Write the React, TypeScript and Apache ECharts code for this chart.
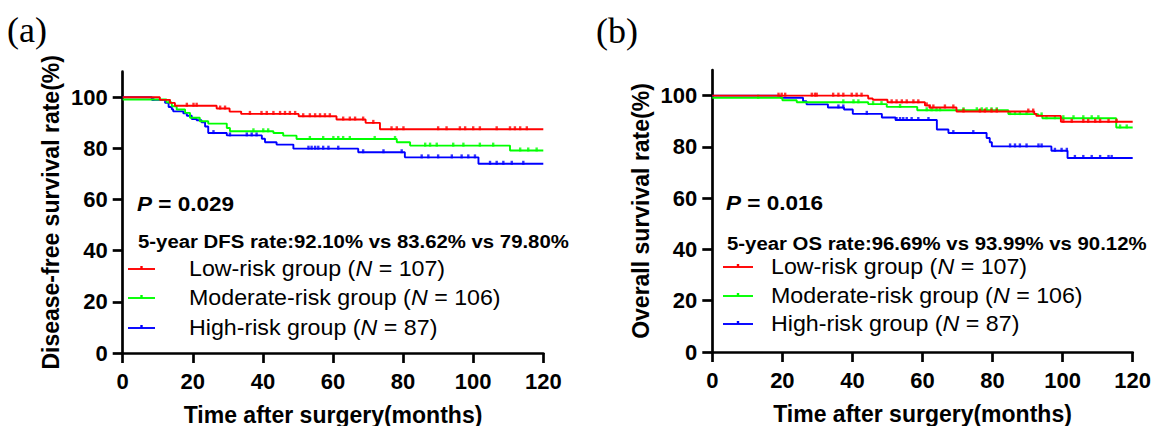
import React, { useEffect, useRef } from "react";
import * as echarts from "echarts";

// ---------- Data ----------
const xTicks = [0, 20, 40, 60, 80, 100, 120];
const yTicks = [0, 20, 40, 60, 80, 100];

const groupNames = ["Low-risk group", "Moderate-risk group", "High-risk group"];
const groupN = [107, 106, 87];
const groupColors = ["#ff0000", "#00ff00", "#0000ff"];

// Panel (a) Disease-free survival: step times (months) and survival (%)
const lowDFS_t = [0, 10.6, 13.5, 14.9, 26.8, 30.5, 33.8, 50.2, 61.0, 69.3, 73.4, 120];
const lowDFS_v = [100, 99.0, 97.8, 96.7, 95.6, 94.4, 93.5, 92.6, 91.3, 90.0, 87.5, 87.5];
const modDFS_t = [0, 12.5, 14.0, 15.4, 17.8, 19.2, 22.0, 24.4, 29.7, 30.6, 43.0, 45.8, 49.6, 78.2, 82.0, 110.5, 120];
const modDFS_v = [99.1, 98.0, 96.5, 95.2, 93.9, 92.0, 90.6, 89.7, 88.0, 86.7, 86.0, 85.0, 83.7, 82.4, 81.1, 79.2, 79.2];
const highDFS_t = [0, 8.3, 12.1, 13.1, 14.0, 14.4, 17.3, 18.3, 19.7, 21.1, 22.5, 23.5, 24.4, 29.7, 39.7, 40.6, 43.9, 48.7, 67.2, 80.5, 101.5, 120];
const highDFS_v = [100, 99.0, 97.8, 96.2, 95.3, 94.5, 93.7, 92.8, 91.5, 91.0, 90.2, 88.6, 86.0, 85.1, 83.8, 82.4, 81.5, 79.9, 78.5, 76.5, 74.0, 74.0];

// censored times (months)
const lowDFS_c = [18.3, 20.2, 21.1, 27.8, 29.2, 36.3, 39.6, 41.1, 43, 44.9, 46.3, 47.7, 49.2, 51.5, 53.4, 54.9, 56.3, 57.7, 59.1, 62.9, 64.8, 66.3, 68.6, 71.5, 76.7, 78.2, 80.1, 90, 92.4, 96.2, 97.7, 100, 101.9, 106.7, 110.5, 111.9, 113.4, 115.3];
const modDFS_c = [13.3, 37.3, 40.1, 41.5, 53.4, 57.2, 60.1, 61.5, 62.9, 64.8, 71.9, 77.7, 86.3, 87.7, 89.6, 94.3, 97.2, 101.9, 105.7, 113.4, 115.7, 118.1];
const highDFS_c = [8.7, 25.9, 30.6, 35.4, 36.8, 38.2, 53.0, 53.9, 54.9, 55.8, 57.2, 58.7, 61.5, 68.6, 74.4, 79.6, 85.3, 87.2, 90.0, 93.9, 96.7, 98.6, 100.5, 104.8, 106.7, 108.6, 111.0, 114.3];

// Panel (b) Overall survival
const lowOS_t = [0, 44.5, 45.8, 50.0, 60.7, 62.0, 69.7, 91.9, 92.5, 99.5, 120];
const lowOS_v = [100, 98.9, 98.4, 97.4, 96.2, 95.4, 93.8, 92.9, 92.1, 89.8, 89.8];
const modOS_t = [0, 20.0, 24.1, 44.5, 49.8, 58.5, 84.5, 93.0, 94.2, 115.3, 120];
const modOS_v = [99.2, 98.2, 97.4, 96.7, 95.6, 94.3, 92.8, 92.3, 91.2, 87.6, 87.6];
const highOS_t = [0, 19.5, 25.9, 26.9, 33.0, 37.6, 40.1, 48.4, 52.3, 64.1, 67.4, 78.3, 79.2, 79.8, 96.8, 101.4, 120];
const highOS_v = [100, 99.2, 97.8, 96.6, 95.4, 94.6, 92.9, 91.5, 90.5, 86.8, 85.4, 83.5, 81.8, 80.2, 78.5, 75.7, 75.7];

const lowOS_c = [18.9, 19.8, 20.8, 28.4, 29.3, 29.8, 34.5, 36.0, 37.4, 39.8, 41.2, 42.6, 51.2, 52.6, 54.1, 55.5, 57.4, 58.8, 61.2, 62.1, 63.1, 66.4, 68.8, 71.7, 76.4, 77.8, 79.7, 81.2, 90.2, 91.6, 100.2, 102.6, 105.9, 107.3, 109.3, 110.7, 113.1, 115.4];
const modOS_c = [13.1, 37.4, 40.3, 41.7, 45.9, 48.3, 53.6, 61.2, 62.6, 64.0, 65.0, 71.7, 75.5, 76.9, 78.3, 79.7, 81.2, 85.0, 86.4, 87.8, 89.7, 94.0, 95.4, 97.8, 100.2, 103.1, 105.9, 108.3, 110.2, 116.4, 118.3];
const highOS_c = [36.0, 37.4, 44.1, 52.6, 53.6, 54.5, 55.5, 56.9, 58.8, 61.7, 68.8, 74.5, 85.0, 86.4, 87.8, 89.7, 93.1, 94.0, 97.8, 99.7, 101.2, 103.5, 105.9, 108.3, 110.7, 113.1, 114.0];

const panelA = {
  label: "(a)",
  yTitle: "Disease-free survival rate(%)",
  pText: " = 0.029",
  rateText: "5-year DFS rate:92.10% vs 83.62% vs 79.80%",
  curves: [
    { t: lowDFS_t, v: lowDFS_v, c: lowDFS_c },
    { t: modDFS_t, v: modDFS_v, c: modDFS_c },
    { t: highDFS_t, v: highDFS_v, c: highDFS_c },
  ],
};
const panelB = {
  label: "(b)",
  yTitle: "Overall survival rate(%)",
  pText: " = 0.016",
  rateText: "5-year OS rate:96.69% vs 93.99% vs 90.12%",
  curves: [
    { t: lowOS_t, v: lowOS_v, c: lowOS_c },
    { t: modOS_t, v: modOS_v, c: modOS_c },
    { t: highOS_t, v: highOS_v, c: highOS_c },
  ],
};

// ---------- Layout ----------
const FONT = "'Liberation Sans', Arial, Helvetica, sans-serif";
const grids = [
  { left: 122.7, top: 71.7, width: 420.6, height: 281.3 },
  { left: 712.3, top: 70, width: 420.4, height: 282 },
];
const layouts = [
  { labelX: 7, labelY: 30, textX: 137, pY: 204, rateY: 241, legLine: [128, 155], legText: 189, legY: [269, 298, 328] },
  { labelX: 596, labelY: 31, textX: 726, pY: 203, rateY: 243, legLine: [723, 753], legText: 771, legY: [267, 296, 324] },
];

function stepAt(t: number[], v: number[], x: number) {
  let val = v[0];
  for (let i = 0; i < t.length; i++) if (t[i] <= x) val = v[i];
  return val;
}

export default function App() {
  const ref = useRef<HTMLDivElement>(null);
  useEffect(() => {
    if (!ref.current) return;
    const chart = echarts.init(ref.current, null, { renderer: "svg" });
    const panels = [panelA, panelB];

    const xAxis: any[] = [];
    const yAxis: any[] = [];
    const series: any[] = [];
    const graphic: any[] = [];

    panels.forEach((p, pi) => {
      const axisLine = { show: true, lineStyle: { color: "#000", width: 2.7 } };
      const axisTick = { show: true, length: 10, lineStyle: { color: "#000", width: 2.7 } };
      xAxis.push({
        type: "value",
        gridIndex: pi,
        min: 0,
        max: 120,
        interval: 20,
        axisLine,
        axisTick: { ...axisTick, customValues: xTicks },
        splitLine: { show: false },
        axisLabel: { color: "#000", fontFamily: FONT, fontWeight: "bold", fontSize: 22, margin: 17, customValues: xTicks },
        name: "Time after surgery(months)",
        nameLocation: "middle",
        nameGap: 50,
        nameTextStyle: { color: "#000", fontFamily: FONT, fontWeight: "bold", fontSize: 23 },
      });
      yAxis.push({
        type: "value",
        gridIndex: pi,
        min: 0,
        max: 110,
        interval: 20,
        axisLine,
        axisTick: { ...axisTick, customValues: yTicks },
        splitLine: { show: false },
        axisLabel: { color: "#000", fontFamily: FONT, fontWeight: "bold", fontSize: 22, margin: 15, customValues: yTicks },
        name: p.yTitle,
        nameLocation: "middle",
        nameGap: 60,
        nameTextStyle: { color: "#000", fontFamily: FONT, fontWeight: "bold", fontSize: 23 },
      });

      p.curves.forEach((cv, gi) => {
        series.push({
          type: "line",
          name: groupNames[gi],
          xAxisIndex: pi,
          yAxisIndex: pi,
          step: "end",
          showSymbol: false,
          symbol: "none",
          lineStyle: { color: groupColors[gi], width: 1.9 },
          itemStyle: { color: groupColors[gi] },
          data: cv.t.map((t, i) => [t, cv.v[i]]),
          z: 3 - gi + 2,
        });
        series.push({
          type: "scatter",
          name: groupNames[gi] + " censored",
          xAxisIndex: pi,
          yAxisIndex: pi,
          symbol: "rect",
          symbolSize: [2.4, 4],
          symbolOffset: [0, -1],
          itemStyle: { color: groupColors[gi] },
          data: cv.c.map((t) => [t, stepAt(cv.t, cv.v, t)]),
          z: 3 - gi + 2,
        });
      });

      const L = layouts[pi];
      graphic.push({
        type: "text",
        x: L.labelX,
        y: L.labelY,
        style: {
          text: p.label,
          fill: "#000",
          font: "36px 'Liberation Serif', 'Times New Roman', serif",
          verticalAlign: "middle",
        },
      });
      graphic.push({
        type: "text",
        x: L.textX,
        y: L.pY,
        scaleX: 1.1,
        style: {
          text: "{i|P}{b|" + p.pText + "}",
          verticalAlign: "middle",
          rich: {
            i: { fontFamily: FONT, fontWeight: "bold", fontStyle: "italic", fontSize: 20.5, fill: "#000" },
            b: { fontFamily: FONT, fontWeight: "bold", fontSize: 20.5, fill: "#000" },
          },
        },
      });
      graphic.push({
        type: "text",
        x: L.textX + 1,
        y: L.rateY,
        scaleX: 1.1,
        style: {
          text: p.rateText,
          fill: "#000",
          fontFamily: FONT,
          fontWeight: "bold",
          fontSize: 18.5,
          verticalAlign: "middle",
        },
      });
      groupNames.forEach((g, gi) => {
        const y = L.legY[gi];
        graphic.push({
          type: "line",
          shape: { x1: L.legLine[0], y1: y, x2: L.legLine[1], y2: y },
          style: { stroke: groupColors[gi], lineWidth: 1.9 },
        });
        graphic.push({
          type: "rect",
          shape: { x: (L.legLine[0] + L.legLine[1]) / 2 - 1.2, y: y - 3, width: 2.4, height: 3 },
          style: { fill: groupColors[gi] },
        });
        graphic.push({
          type: "text",
          x: L.legText,
          y: y,
          scaleX: 1.08,
          style: {
            text: "{a|" + g + " (}{i|N}{a| = " + groupN[gi] + ")}",
            verticalAlign: "middle",
            rich: {
              a: { fontFamily: FONT, fontSize: 21.5, fill: "#000" },
              i: { fontFamily: FONT, fontSize: 21.5, fontStyle: "italic", fill: "#000" },
            },
          },
        });
      });
    });

    chart.setOption({
      animation: false,
      backgroundColor: "#fff",
      grid: grids.map((g) => ({ ...g, containLabel: false, outerBoundsMode: "none" })),
      xAxis,
      yAxis,
      series,
      graphic,
    });
    return () => chart.dispose();
  }, []);
  return (
    <div
      ref={ref}
      style={{ position: "fixed", left: 0, top: 0, width: 1152, height: 426, background: "#fff" }}
    />
  );
}
